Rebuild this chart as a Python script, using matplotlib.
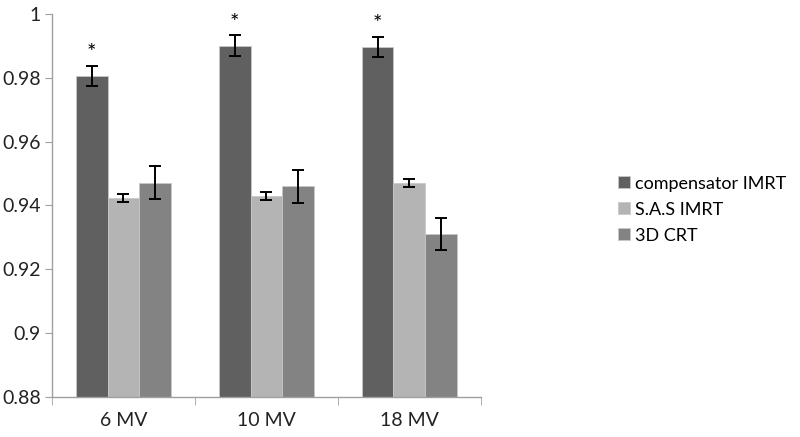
import numpy as np
import matplotlib.pyplot as plt

plt.rcParams['font.family'] = ['Lato', 'DejaVu Sans']

# data
categories = ['6 MV', '10 MV', '18 MV']
series_names = ['compensator IMRT', 'S.A.S IMRT', '3D CRT']
compensator = [0.9806, 0.9900, 0.9897]
compensator_err = [0.0032, 0.0033, 0.0032]
sas = [0.9424, 0.9430, 0.9470]
sas_err = [0.0013, 0.0012, 0.0013]
crt = [0.9472, 0.9460, 0.9312]
crt_err = [0.0053, 0.0052, 0.0050]
star_flags = [True, True, True]

colors = ['#606060', '#b4b4b4', '#838383']

fig = plt.figure(figsize=(8, 4.37), dpi=100)
ax = fig.add_axes([0.065, 0.0915, 0.536, 0.8765])

x = np.arange(len(categories))
width = 1 / 4.5
values = [compensator, sas, crt]
errors = [compensator_err, sas_err, crt_err]
for i, (vals, errs) in enumerate(zip(values, errors)):
    pos = x + (i - 1) * width
    ax.bar(pos, np.array(vals) - 0.88, width, bottom=0.88, color=colors[i],
           edgecolor='#c8c8c8', linewidth=0.6, label=series_names[i], zorder=2)
    ax.errorbar(pos, vals, yerr=errs, fmt='none', ecolor='black',
                elinewidth=1.4, capsize=4, capthick=1.4, zorder=3)

# significance markers
for xi, v, e, flag in zip(x - width, compensator, compensator_err, star_flags):
    if flag:
        ax.text(xi, v + e + 0.0008, '*', ha='center', va='bottom', fontsize=16)

ax.set_ylim(0.88, 1.0)
ax.set_xlim(-0.5, 2.5)
ax.set_yticks(np.arange(0.88, 1.001, 0.02))
ax.set_yticklabels(['0.88', '0.9', '0.92', '0.94', '0.96', '0.98', '1'])
ax.set_xticks(x)
ax.set_xticklabels(categories)
ax.set_xticks([-0.5, 0.5, 1.5, 2.5], minor=True)
ax.tick_params(axis='x', which='major', length=0, labelsize=14, pad=11, colors='#222222')
ax.tick_params(axis='x', which='minor', length=6, color='#a0a0a0')
ax.tick_params(axis='y', length=5, labelsize=14, pad=3, colors='#222222')
ax.tick_params(axis='y', color='#a0a0a0')

for s in ['top', 'right']:
    ax.spines[s].set_visible(False)
for s in ['left', 'bottom']:
    ax.spines[s].set_color('#a0a0a0')
    ax.spines[s].set_linewidth(1.0)

leg = fig.legend(loc='upper left', bbox_to_anchor=(0.752, 0.635), frameon=False,
                 fontsize=13, handlelength=0.65, handleheight=0.65, handletextpad=0.3,
                 labelspacing=0.55)
for h in leg.legend_handles:
    h.set_edgecolor('#c8c8c8')

fig.savefig('out.png', dpi=100)
